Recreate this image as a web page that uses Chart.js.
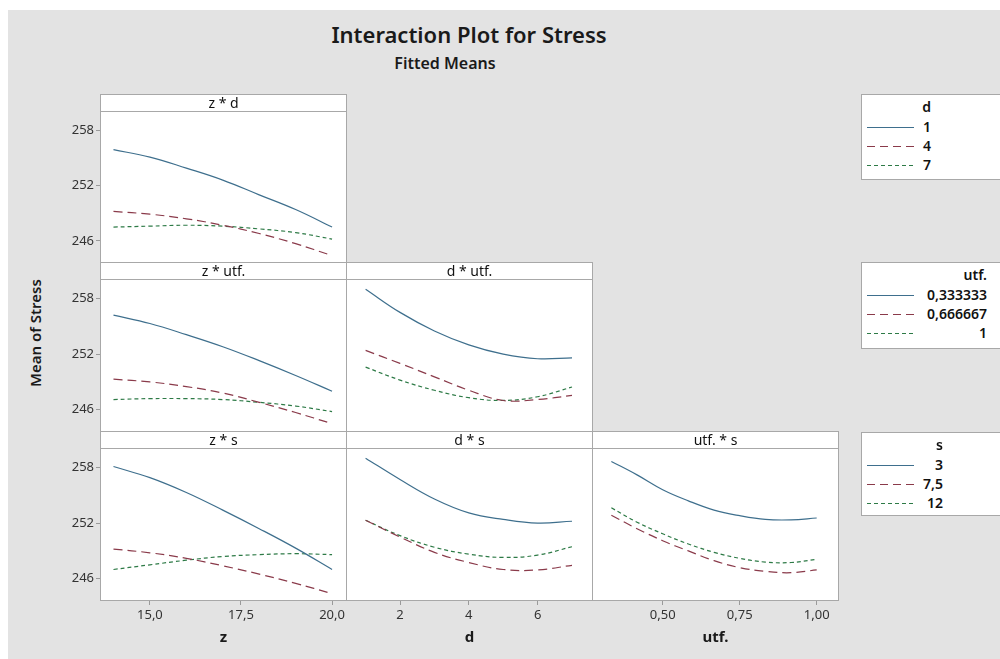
<!DOCTYPE html>
<html>
<head>
<meta charset="utf-8">
<title>Interaction Plot for Stress</title>
<script src="https://cdn.jsdelivr.net/npm/chart.js"></script>
<style>
  html, body { margin: 0; padding: 0; width: 1000px; height: 659px; overflow: hidden; background: #fff; font-family: "Noto Sans", sans-serif; }
  #bg { position: absolute; left: 8px; top: 10px; width: 992px; height: 649px; background: #e3e3e3; }
  canvas { position: absolute; }
  .strip { position: absolute; box-sizing: border-box; height: 18px; width: 247px; border: 1px solid #a8a8a8; background: #fff;
           text-align: center; font-size: 14px; line-height: 15px; color: #111; z-index: 5; }
  .legend { position: absolute; left: 861px; width: 150px; box-sizing: border-box; border: 1px solid #a8a8a8; background: #fff; z-index: 5; }
  .legend div { position: absolute; font-size: 14px; font-weight: 600; color: #111; text-align: right; line-height: 16px; }
  .legend svg { position: absolute; left: 0; top: 0; }
  #title { position: absolute; left: 269px; width: 400px; top: 19px; text-align: center; font-size: 22px; font-weight: 600; color: #1a1a1a; }
  #subtitle { position: absolute; left: 295px; width: 300px; top: 52px; text-align: center; font-size: 16px; font-weight: 600; color: #1a1a1a; }
  #ylab { position: absolute; left: 35px; top: 333px; transform: translate(-50%, -50%) rotate(-90deg); white-space: nowrap;
          font-size: 15px; font-weight: 600; color: #1a1a1a; }
</style>
</head>
<body>
<div id="bg"></div>
<div id="title">Interaction Plot for Stress</div>
<div id="subtitle">Fitted Means</div>
<div id="ylab">Mean of Stress</div>

<script>
// x positions where the fitted means were read
const zVals = [14, 15, 16, 17, 18, 19, 20];
const dVals = [1, 2, 3, 4, 5, 6, 7];
const utfVals = [0.3333, 0.4167, 0.5, 0.5833, 0.6667, 0.75, 0.8333, 0.9167, 1];

// ticks
const yTicks = [246, 252, 258];
const zTicks = [15, 17.5, 20];
const dTicks = [2, 4, 6];
const utfTicks = [0.5, 0.75, 1];

// legend levels
const dLevels = ['1', '4', '7'];
const utfLevels = ['0,333333', '0,666667', '1'];
const sLevels = ['3', '7,5', '12'];

// z * d
const zd_d1 = [255.9, 255.1, 253.9, 252.6, 251.0, 249.4, 247.5];
const zd_d4 = [249.2, 248.9, 248.4, 247.7, 246.8, 245.7, 244.4];
const zd_d7 = [247.5, 247.6, 247.7, 247.6, 247.3, 246.9, 246.2];
// z * utf.
const zu_u1 = [256.2, 255.3, 254.1, 252.8, 251.3, 249.7, 248.0];
const zu_u2 = [249.3, 249.0, 248.5, 247.8, 246.8, 245.7, 244.5];
const zu_u3 = [247.1, 247.2, 247.2, 247.1, 246.8, 246.4, 245.8];
// z * s
const zs_s1 = [258.1, 256.9, 255.3, 253.4, 251.4, 249.3, 247.0];
const zs_s2 = [249.2, 248.8, 248.2, 247.4, 246.5, 245.5, 244.4];
const zs_s3 = [247.0, 247.5, 248.0, 248.4, 248.6, 248.7, 248.6];
// d * utf.
const du_u1 = [259.0, 256.5, 254.5, 253.0, 252.0, 251.5, 251.6];
const du_u2 = [252.4, 251.0, 249.55, 248.1, 247.0, 247.1, 247.55];
const du_u3 = [250.6, 249.2, 248.1, 247.3, 247.0, 247.4, 248.45];
// d * s
const ds_s1 = [259.0, 256.7, 254.6, 253.1, 252.4, 252.0, 252.2];
const ds_s2 = [252.3, 250.5, 248.85, 247.75, 247.0, 246.95, 247.45];
const ds_s3 = [252.3, 250.65, 249.4, 248.65, 248.3, 248.55, 249.45];
// utf. * s
const us_s1 = [258.65, 257.2, 255.6, 254.4, 253.4, 252.8, 252.4, 252.35, 252.55];
const us_s2 = [252.85, 251.4, 250.1, 249.0, 247.95, 247.2, 246.8, 246.65, 246.95];
const us_s3 = [253.65, 252.1, 250.85, 249.75, 248.85, 248.2, 247.8, 247.75, 248.1];

const COLORS = ['#3e6f8d', '#8a3a4a', '#2d7a46'];
const DASHES = [[], [9, 5], [4, 3]];
const LEGEND_DASH = ['', '8 5', '4 3'];

const colLeft = [100, 346, 592];
const rowTop = [94, 262, 431];
const plotH = [152, 153, 153];
const PLOT_W = 247, YAX = 50, XAX = 52, RPAD = 10;

const comma = d => v => v.toFixed(d).replace('.', ',');

const panels = [
  { row: 0, col: 0, title: 'z * d', x: zVals, min: 13.63, max: 20.41, ticks: zTicks, fmt: comma(1), xTitle: 'z', ser: [zd_d1, zd_d4, zd_d7] },
  { row: 1, col: 0, title: 'z * utf.', x: zVals, min: 13.63, max: 20.41, ticks: zTicks, fmt: comma(1), xTitle: 'z', ser: [zu_u1, zu_u2, zu_u3] },
  { row: 1, col: 1, title: 'd * utf.', x: dVals, min: 0.43, max: 7.61, ticks: dTicks, fmt: comma(0), xTitle: 'd', ser: [du_u1, du_u2, du_u3] },
  { row: 2, col: 0, title: 'z * s', x: zVals, min: 13.63, max: 20.41, ticks: zTicks, fmt: comma(1), xTitle: 'z', ser: [zs_s1, zs_s2, zs_s3] },
  { row: 2, col: 1, title: 'd * s', x: dVals, min: 0.43, max: 7.61, ticks: dTicks, fmt: comma(0), xTitle: 'd', ser: [ds_s1, ds_s2, ds_s3] },
  { row: 2, col: 2, title: 'utf. * s', x: utfVals, min: 0.2705, max: 1.0724, ticks: utfTicks, fmt: comma(2), xTitle: 'utf.', ser: [us_s1, us_s2, us_s3] }
];

// white plot area + grey frame
const framePlugin = {
  id: 'frame',
  beforeDraw(chart) {
    const a = chart.chartArea, ctx = chart.ctx;
    ctx.save();
    ctx.fillStyle = '#fff';
    ctx.fillRect(a.left, a.top, a.right - a.left, a.bottom - a.top);
    ctx.restore();
  },
  afterDraw(chart) {
    const a = chart.chartArea, ctx = chart.ctx;
    ctx.save();
    ctx.strokeStyle = '#a8a8a8';
    ctx.lineWidth = 1;
    ctx.strokeRect(a.left + 0.5, a.top + 0.5, a.right - a.left - 1, a.bottom - a.top - 1);
    ctx.restore();
  }
};

const tickFont = { family: '"Noto Sans", sans-serif', size: 13 };

panels.forEach(p => {
  const showY = p.col === 0, showX = p.row === 2;
  const cv = document.createElement('canvas');
  const w = (showY ? YAX : 1) + PLOT_W + RPAD;
  const h = 1 + plotH[p.row] + (showX ? XAX : 1);
  cv.width = w; cv.height = h;
  cv.style.left = (colLeft[p.col] - (showY ? YAX : 1)) + 'px';
  cv.style.top = (rowTop[p.row] + 17 - 1) + 'px';
  cv.style.width = w + 'px'; cv.style.height = h + 'px';
  document.body.appendChild(cv);

  new Chart(cv, {
    type: 'line',
    data: {
      datasets: p.ser.map((s, i) => ({
        data: p.x.map((x, j) => ({ x: x, y: s[j] })),
        borderColor: COLORS[i],
        borderWidth: 1.2,
        borderDash: DASHES[i],
        pointRadius: 0,
        tension: 0.4,
        fill: false
      }))
    },
    options: {
      responsive: false,
      animation: false,
      devicePixelRatio: 1,
      layout: { padding: { left: showY ? 0 : 1, top: 1, right: RPAD, bottom: showX ? 0 : 1 } },
      plugins: { legend: { display: false }, tooltip: { enabled: false } },
      scales: {
        x: {
          type: 'linear', min: p.min, max: p.max, display: showX,
          afterBuildTicks: s => { s.ticks = p.ticks.map(v => ({ value: v })); },
          afterFit: s => { s.height = showX ? XAX : 0; s.paddingLeft = 0; s.paddingRight = 0; s.paddingTop = 0; s.paddingBottom = 0; },
          ticks: { callback: p.fmt, font: tickFont, color: '#333', padding: 2, maxRotation: 0, autoSkip: false },
          grid: { drawOnChartArea: false, tickLength: 4, color: '#9a9a9a' },
          border: { display: false },
          title: { display: true, text: p.xTitle, color: '#1a1a1a', font: { family: '"Noto Sans", sans-serif', size: 15, weight: 'bold' }, padding: { top: 0, bottom: 6 } }
        },
        y: {
          type: 'linear', min: 243.6, max: 260.1, display: showY,
          afterBuildTicks: s => { s.ticks = yTicks.map(v => ({ value: v })); },
          afterFit: s => { s.width = showY ? YAX : 0; s.paddingLeft = 0; s.paddingRight = 0; s.paddingTop = 0; s.paddingBottom = 0; },
          ticks: { font: tickFont, color: '#333', padding: 2 },
          grid: { drawOnChartArea: false, tickLength: 4, color: '#9a9a9a' },
          border: { display: false }
        }
      }
    },
    plugins: [framePlugin]
  });

  const strip = document.createElement('div');
  strip.className = 'strip';
  strip.style.left = colLeft[p.col] + 'px';
  strip.style.top = rowTop[p.row] + 'px';
  strip.textContent = p.title;
  document.body.appendChild(strip);
});

// legends
const legends = [
  { title: 'd', levels: dLevels, top: 94, h: 86, right: 69 },
  { title: 'utf.', levels: utfLevels, top: 262, h: 87, right: 125 },
  { title: 's', levels: sLevels, top: 432, h: 84, right: 81 }
];
const rowsY = [12, 32, 51, 70];
legends.forEach(L => {
  const box = document.createElement('div');
  box.className = 'legend';
  box.style.top = L.top + 'px';
  box.style.height = L.h + 'px';
  let svg = '<svg width="60" height="' + L.h + '">';
  L.levels.forEach((lv, i) => {
    const y = rowsY[i + 1] + 0.5;
    svg += '<line x1="5" x2="52" y1="' + y + '" y2="' + y + '" stroke="' + COLORS[i] + '" stroke-width="1.2"' +
      (LEGEND_DASH[i] ? ' stroke-dasharray="' + LEGEND_DASH[i] + '"' : '') + '/>';
  });
  svg += '</svg>';
  box.innerHTML = svg;
  [L.title].concat(L.levels).forEach((t, i) => {
    const d = document.createElement('div');
    d.textContent = t;
    d.style.right = (150 - 2 - L.right) + 'px';
    d.style.top = (rowsY[i] - 8) + 'px';
    box.appendChild(d);
  });
  document.body.appendChild(box);
});
</script>
</body>
</html>
